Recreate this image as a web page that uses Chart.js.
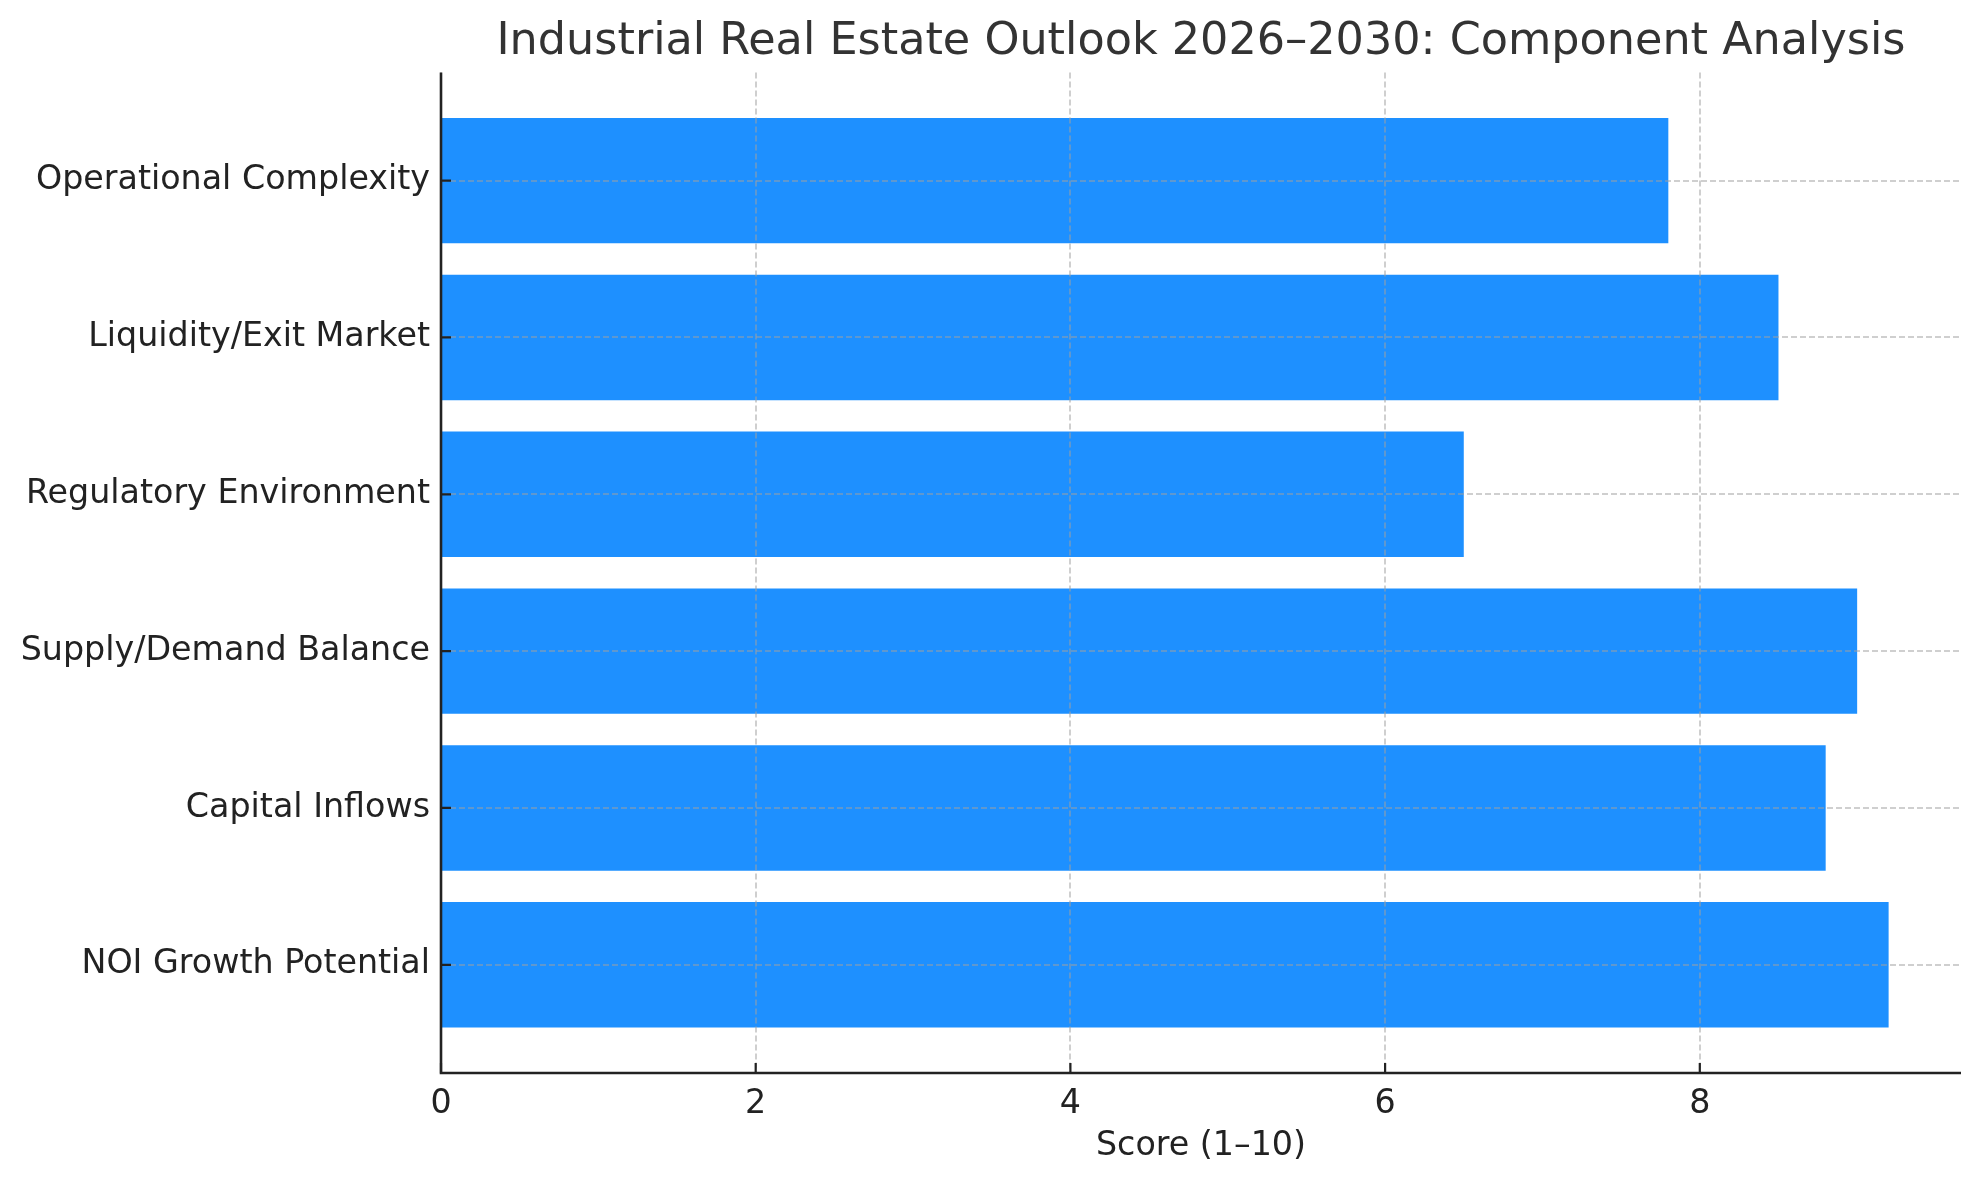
<!DOCTYPE html>
<html>
<head>
<meta charset="utf-8">
<script src="https://cdn.jsdelivr.net/npm/chart.js@4.4.1/dist/chart.umd.min.js"></script>
<style>
  html, body { margin: 0; padding: 0; background: #ffffff; }
  #wrap { width: 1979px; height: 1180px; position: relative; }
  canvas { display: block; }
</style>
</head>
<body>
<div id="wrap"><canvas id="c" width="1979" height="1180"></canvas></div>
<script>
const categories = [
  "NOI Growth Potential",
  "Capital Inflows",
  "Supply/Demand Balance",
  "Regulatory Environment",
  "Liquidity/Exit Market",
  "Operational Complexity"
];
const scores = [9.2, 8.8, 9.0, 6.5, 8.5, 7.8];
const xTicks = [0, 2, 4, 6, 8];
const titleText = "Industrial Real Estate Outlook 2026\u20132030: Component Analysis";
const xLabel = "Score (1\u201310)";

const FONT = "'DejaVu Sans', 'Liberation Sans', sans-serif";
const xMax = Math.max(...scores) * 1.05;
const yMin = -0.4 - 0.05 * (categories.length - 1 + 0.8);
const yMax = categories.length - 1 + 0.4 + 0.05 * (categories.length - 1 + 0.8);

const inwardTicks = {
  id: 'inwardTicks',
  afterDraw(chart) {
    const ctx = chart.ctx;
    const xs = chart.scales.x, ys = chart.scales.y;
    const a = chart.chartArea;
    ctx.save();
    ctx.strokeStyle = '#222222';
    ctx.lineWidth = 2.2;
    ctx.beginPath();
    xs.ticks.forEach(t => {
      const px = xs.getPixelForValue(t.value);
      ctx.moveTo(px, a.bottom);
      ctx.lineTo(px, a.bottom - 10);
    });
    ys.ticks.forEach(t => {
      const py = ys.getPixelForValue(t.value);
      ctx.moveTo(a.left, py);
      ctx.lineTo(a.left + 10, py);
    });
    ctx.stroke();
    ctx.lineWidth = 2.6;
    ctx.beginPath();
    ctx.moveTo(a.left, a.top);
    ctx.lineTo(a.left, a.bottom);
    ctx.lineTo(a.right, a.bottom);
    ctx.stroke();
    ctx.restore();
  }
};

new Chart(document.getElementById('c'), {
  type: 'bar',
  data: {
    datasets: [{
      data: scores.map((v, i) => ({ x: v, y: i })),
      backgroundColor: '#1E90FF',
      borderWidth: 0,
      barPercentage: 0.8,
      categoryPercentage: 1.0
    }]
  },
  options: {
    indexAxis: 'y',
    responsive: false,
    devicePixelRatio: 1,
    animation: false,
    layout: { padding: { left: 0, right: 18, top: 0, bottom: 0 } },
    plugins: {
      legend: { display: false },
      tooltip: { enabled: false },
      title: {
        display: true,
        text: titleText,
        fullSize: false,
        color: '#333333',
        font: { family: FONT, size: 44.5, weight: 'normal', lineHeight: 1.2 },
        padding: { top: 16, bottom: 3 }
      }
    },
    scales: {
      x: {
        type: 'linear',
        min: 0,
        max: xMax,
        offset: false,
        afterBuildTicks(scale) { scale.ticks = xTicks.map(v => ({ value: v })); },
        afterFit(scale) { scale.height = 107; },
        ticks: {
          color: '#222222',
          font: { family: FONT, size: 33.3 },
          padding: 11,
          maxRotation: 0,
          callback: v => String(v)
        },
        grid: {
          z: 1,
          drawTicks: false,
          offset: false,
          color: 'rgba(160,160,160,0.5)',
          lineWidth: 2
        },
        border: { display: false, dash: [6, 3] },
        title: {
          display: true,
          text: xLabel,
          color: '#222222',
          font: { family: FONT, size: 33.3 },
          padding: { top: 0, bottom: 14 }
        }
      },
      y: {
        type: 'linear',
        min: yMin,
        max: yMax,
        offset: false,
        afterBuildTicks(scale) { scale.ticks = categories.map((c, i) => ({ value: i })); },
        afterFit(scale) { scale.width = 441; },
        ticks: {
          color: '#222222',
          font: { family: FONT, size: 33.3 },
          padding: 11,
          callback: v => categories[v] !== undefined ? categories[v] : ''
        },
        grid: {
          z: 1,
          drawTicks: false,
          offset: false,
          color: 'rgba(160,160,160,0.5)',
          lineWidth: 2
        },
        border: { display: false, dash: [6, 3] }
      }
    }
  },
  plugins: [inwardTicks]
});
</script>
</body>
</html>
